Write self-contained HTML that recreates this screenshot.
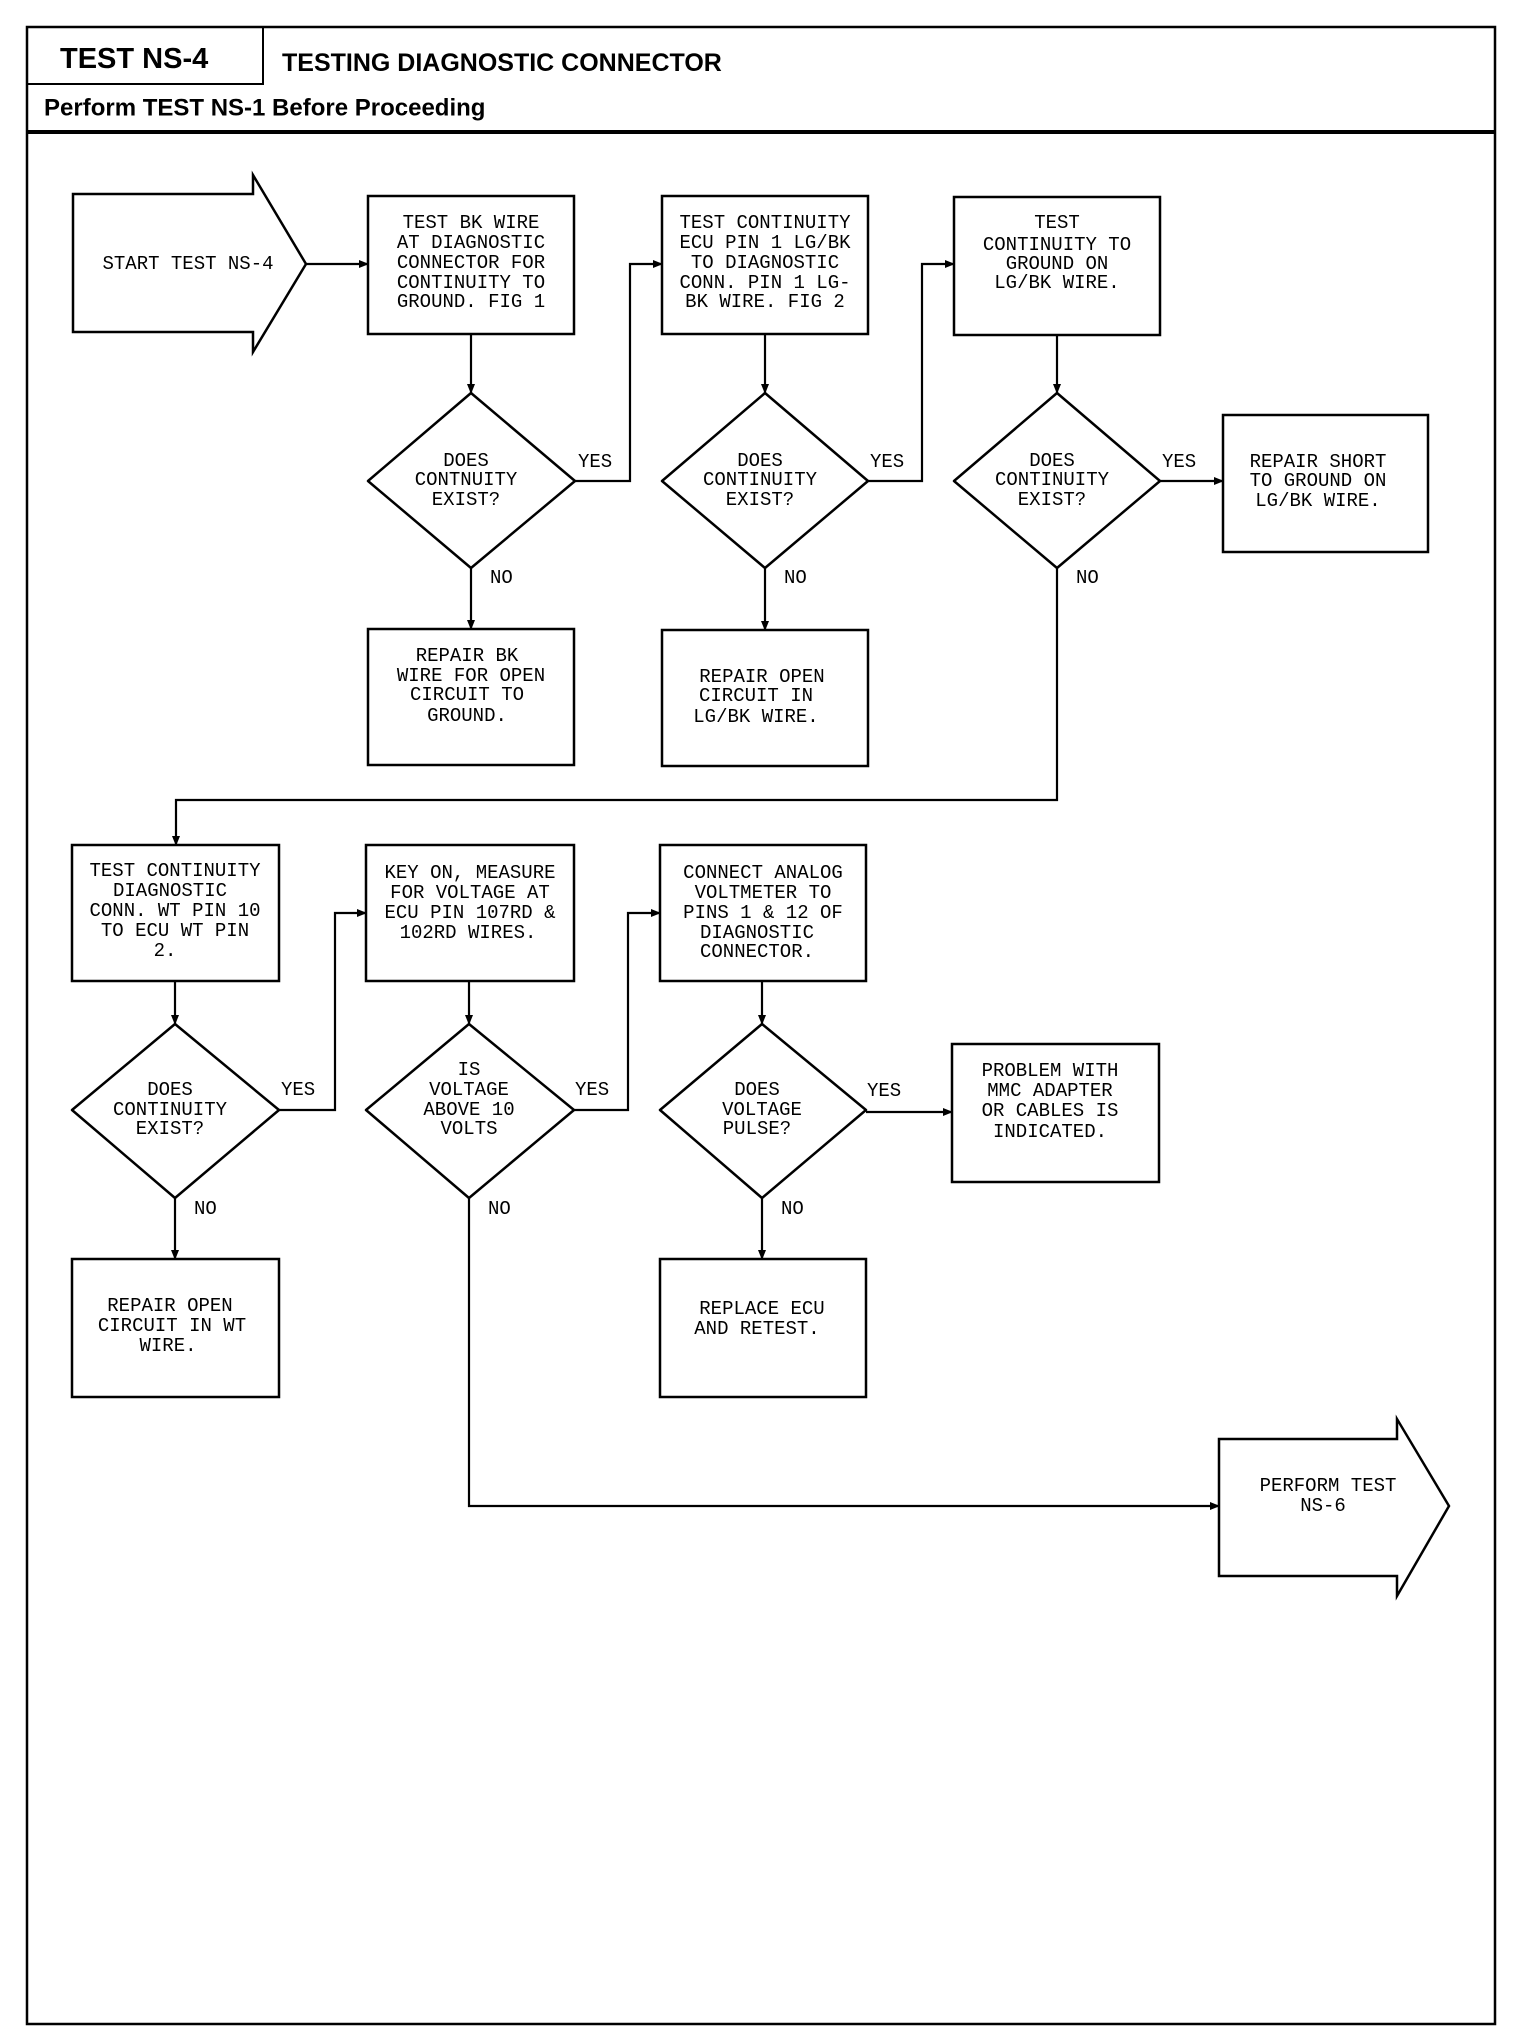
<!DOCTYPE html>
<html><head><meta charset="utf-8"><style>
html,body{margin:0;padding:0;background:#fff;}
svg{display:block}
.t{font-family:"Liberation Mono",monospace;font-size:19px;fill:#000;text-anchor:middle;dominant-baseline:central}
.l{font-family:"Liberation Mono",monospace;font-size:19px;fill:#000;dominant-baseline:central}
.s{fill:#fff;stroke:#000;stroke-width:2.5}
.ln{fill:none;stroke:#000;stroke-width:2.2}
.h{font-family:"Liberation Sans",sans-serif;font-weight:bold;fill:#000;dominant-baseline:central}
</style></head><body>
<svg width="1520" height="2040" viewBox="0 0 1520 2040" xmlns="http://www.w3.org/2000/svg">
<defs><marker id="a" markerWidth="10" markerHeight="8" refX="9" refY="4" orient="auto" markerUnits="userSpaceOnUse"><path d="M0,0 L10,4 L0,8 Z" fill="#000"/></marker></defs>
<!-- frame -->
<rect x="27" y="27" width="1468" height="1997" fill="none" stroke="#000" stroke-width="2.5"/>
<line x1="27" y1="132" x2="1495" y2="132" stroke="#000" stroke-width="4"/>
<rect x="27" y="27" width="236" height="57" fill="none" stroke="#000" stroke-width="2"/>
<text class="h" x="60" y="59" font-size="29">TEST NS-4</text>
<text class="h" x="282" y="63" font-size="25">TESTING DIAGNOSTIC CONNECTOR</text>
<text class="h" x="44" y="108" font-size="24">Perform TEST NS-1 Before Proceeding</text>

<!-- start arrow -->
<path class="s" d="M73,194 L253,194 L253,175 L306,264 L253,352 L253,332 L73,332 Z"/>
<text class="t" x="188" y="264">START TEST NS-4</text>
<line class="ln" x1="306" y1="264" x2="368" y2="264" marker-end="url(#a)"/>

<!-- row1 boxes -->
<rect class="s" x="368" y="196" width="206" height="138"/>
<text class="t" x="471" y="223">TEST BK WIRE</text><text class="t" x="471" y="243">AT DIAGNOSTIC</text><text class="t" x="471" y="263">CONNECTOR FOR</text><text class="t" x="471" y="283">CONTINUITY TO</text><text class="t" x="471" y="302">GROUND. FIG 1</text>
<rect class="s" x="662" y="196" width="206" height="138"/>
<text class="t" x="765" y="223">TEST CONTINUITY</text><text class="t" x="765" y="243">ECU PIN 1 LG/BK</text><text class="t" x="765" y="263">TO DIAGNOSTIC</text><text class="t" x="765" y="283">CONN. PIN 1 LG-</text><text class="t" x="765" y="302">BK WIRE. FIG 2</text>
<rect class="s" x="954" y="197" width="206" height="138"/>
<text class="t" x="1057" y="223">TEST</text><text class="t" x="1057" y="245">CONTINUITY TO</text><text class="t" x="1057" y="264">GROUND ON</text><text class="t" x="1057" y="283">LG/BK WIRE.</text>

<!-- down arrows -->
<line class="ln" x1="471" y1="334" x2="471" y2="393" marker-end="url(#a)"/>
<line class="ln" x1="765" y1="334" x2="765" y2="393" marker-end="url(#a)"/>
<line class="ln" x1="1057" y1="335" x2="1057" y2="393" marker-end="url(#a)"/>

<!-- diamonds row1 -->
<path class="s" d="M471,393 L575,481 L471,568 L368,481 Z" stroke-linejoin="round"/>
<text class="t" x="466" y="461">DOES</text><text class="t" x="466" y="480">CONTNUITY</text><text class="t" x="466" y="500">EXIST?</text>
<path class="s" d="M765,393 L868,481 L765,568 L662,481 Z" stroke-linejoin="round"/>
<text class="t" x="760" y="461">DOES</text><text class="t" x="760" y="480">CONTINUITY</text><text class="t" x="760" y="500">EXIST?</text>
<path class="s" d="M1057,393 L1160,481 L1057,568 L954,481 Z" stroke-linejoin="round"/>
<text class="t" x="1052" y="461">DOES</text><text class="t" x="1052" y="480">CONTINUITY</text><text class="t" x="1052" y="500">EXIST?</text>

<!-- yes connectors row1 -->
<polyline class="ln" points="575,481 630,481 630,264 662,264" marker-end="url(#a)"/>
<text class="l" x="578" y="462">YES</text>
<polyline class="ln" points="868,481 922,481 922,264 954,264" marker-end="url(#a)"/>
<text class="l" x="870" y="462">YES</text>
<line class="ln" x1="1160" y1="481" x2="1223" y2="481" marker-end="url(#a)"/>
<text class="l" x="1162" y="462">YES</text>
<rect class="s" x="1223" y="415" width="205" height="137"/>
<text class="t" x="1318" y="462">REPAIR SHORT</text><text class="t" x="1318" y="481">TO GROUND ON</text><text class="t" x="1318" y="501">LG/BK WIRE.</text>

<!-- no row1 -->
<line class="ln" x1="471" y1="568" x2="471" y2="629" marker-end="url(#a)"/>
<text class="l" x="490" y="578">NO</text>
<line class="ln" x1="765" y1="568" x2="765" y2="630" marker-end="url(#a)"/>
<text class="l" x="784" y="578">NO</text>
<polyline class="ln" points="1057,568 1057,800 176,800 176,845" marker-end="url(#a)"/>
<text class="l" x="1076" y="578">NO</text>
<rect class="s" x="368" y="629" width="206" height="136"/>
<text class="t" x="467" y="656">REPAIR BK</text><text class="t" x="471" y="676">WIRE FOR OPEN</text><text class="t" x="467" y="695">CIRCUIT TO</text><text class="t" x="467" y="716">GROUND.</text>
<rect class="s" x="662" y="630" width="206" height="136"/>
<text class="t" x="762" y="677">REPAIR OPEN</text><text class="t" x="756" y="696">CIRCUIT IN</text><text class="t" x="756" y="717">LG/BK WIRE.</text>

<!-- row2 boxes -->
<rect class="s" x="72" y="845" width="207" height="136"/>
<text class="t" x="175" y="871">TEST CONTINUITY</text><text class="t" x="170" y="891">DIAGNOSTIC</text><text class="t" x="175" y="911">CONN. WT PIN 10</text><text class="t" x="175" y="931">TO ECU WT PIN</text><text class="t" x="165" y="951">2.</text>
<rect class="s" x="366" y="845" width="208" height="136"/>
<text class="t" x="470" y="873">KEY ON, MEASURE</text><text class="t" x="470" y="893">FOR VOLTAGE AT</text><text class="t" x="470" y="913">ECU PIN 107RD &amp;</text><text class="t" x="468" y="933">102RD WIRES.</text>
<rect class="s" x="660" y="845" width="206" height="136"/>
<text class="t" x="763" y="873">CONNECT ANALOG</text><text class="t" x="763" y="893">VOLTMETER TO</text><text class="t" x="763" y="913">PINS 1 &amp; 12 OF</text><text class="t" x="757" y="933">DIAGNOSTIC</text><text class="t" x="757" y="952">CONNECTOR.</text>

<line class="ln" x1="175" y1="981" x2="175" y2="1024" marker-end="url(#a)"/>
<line class="ln" x1="469" y1="981" x2="469" y2="1024" marker-end="url(#a)"/>
<line class="ln" x1="762" y1="981" x2="762" y2="1024" marker-end="url(#a)"/>

<path class="s" d="M175,1024 L279,1110 L175,1198 L72,1110 Z" stroke-linejoin="round"/>
<text class="t" x="170" y="1090">DOES</text><text class="t" x="170" y="1110">CONTINUITY</text><text class="t" x="170" y="1129">EXIST?</text>
<path class="s" d="M469,1024 L574,1110 L469,1198 L366,1110 Z" stroke-linejoin="round"/>
<text class="t" x="469" y="1070">IS</text><text class="t" x="469" y="1090">VOLTAGE</text><text class="t" x="469" y="1110">ABOVE 10</text><text class="t" x="469" y="1129">VOLTS</text>
<path class="s" d="M762,1024 L866,1110 L762,1198 L660,1110 Z" stroke-linejoin="round"/>
<text class="t" x="757" y="1090">DOES</text><text class="t" x="762" y="1110">VOLTAGE</text><text class="t" x="757" y="1129">PULSE?</text>

<polyline class="ln" points="279,1110 335,1110 335,913 366,913" marker-end="url(#a)"/>
<text class="l" x="281" y="1090">YES</text>
<polyline class="ln" points="574,1110 628,1110 628,913 660,913" marker-end="url(#a)"/>
<text class="l" x="575" y="1090">YES</text>
<line class="ln" x1="866" y1="1112" x2="952" y2="1112" marker-end="url(#a)"/>
<text class="l" x="867" y="1091">YES</text>
<rect class="s" x="952" y="1044" width="207" height="138"/>
<text class="t" x="1050" y="1071">PROBLEM WITH</text><text class="t" x="1050" y="1091">MMC ADAPTER</text><text class="t" x="1050" y="1111">OR CABLES IS</text><text class="t" x="1050" y="1132">INDICATED.</text>

<line class="ln" x1="175" y1="1198" x2="175" y2="1259" marker-end="url(#a)"/>
<text class="l" x="194" y="1209">NO</text>
<polyline class="ln" points="469,1198 469,1506 1219,1506" marker-end="url(#a)"/>
<text class="l" x="488" y="1209">NO</text>
<line class="ln" x1="762" y1="1198" x2="762" y2="1259" marker-end="url(#a)"/>
<text class="l" x="781" y="1209">NO</text>

<rect class="s" x="72" y="1259" width="207" height="138"/>
<text class="t" x="170" y="1306">REPAIR OPEN</text><text class="t" x="172" y="1326">CIRCUIT IN WT</text><text class="t" x="168" y="1346">WIRE.</text>
<rect class="s" x="660" y="1259" width="206" height="138"/>
<text class="t" x="762" y="1309">REPLACE ECU</text><text class="t" x="757" y="1329">AND RETEST.</text>

<path class="s" d="M1219,1439 L1397,1439 L1397,1419 L1449,1506 L1397,1596 L1397,1576 L1219,1576 Z"/>
<text class="t" x="1328" y="1486">PERFORM TEST</text><text class="t" x="1323" y="1506">NS-6</text>
</svg>
</body></html>
